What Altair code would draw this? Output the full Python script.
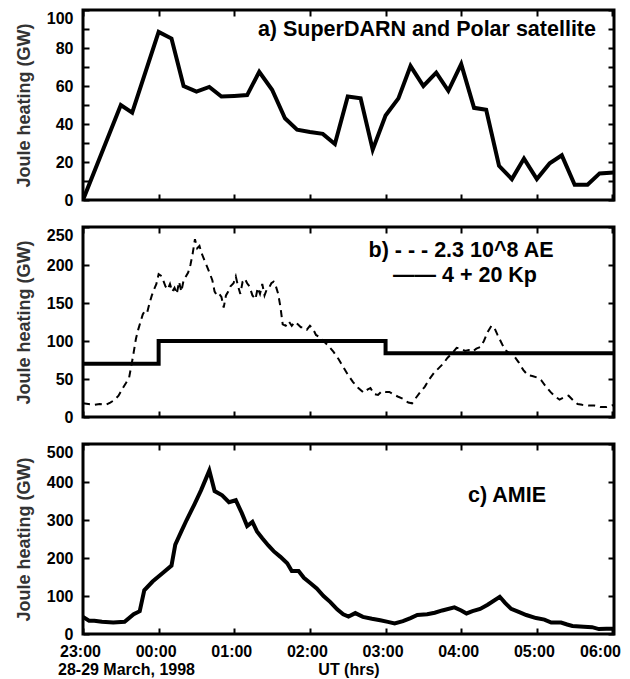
import altair as alt
import pandas as pd

# Time axis: hours from 00:00 UT on 29 March 1998 (negative values fall on 28 March)
hour_ticks = [-1, 0, 1, 2, 3, 4, 5, 6]

# a) SuperDARN + Polar satellite Joule heating (GW)
sd_hours = [-1.0, -0.5, -0.35, 0.0, 0.17, 0.33, 0.5, 0.67, 0.83, 1.0,
            1.17, 1.33, 1.5, 1.67, 1.83, 2.0, 2.17, 2.33, 2.5, 2.67,
            2.83, 3.0, 3.17, 3.33, 3.5, 3.67, 3.83, 4.0, 4.17, 4.33,
            4.5, 4.67, 4.83, 5.0, 5.17, 5.33, 5.5, 5.67, 5.83, 6.02]
sd_gw = [0, 50, 46, 88.5, 85, 60, 57, 59.5, 54.5, 54.8,
         55.2, 67.5, 58, 43, 37, 35.8, 34.8, 29.5, 54.5, 53.5,
         26.5, 44.5, 53.5, 70.5, 60, 67, 57.5, 71.5, 48.5, 47.5,
         18, 11, 21.8, 11, 19.3, 23.5, 8, 8, 14, 14.5]

# b) AE-index proxy (2.3e8 * AE) and Kp proxy (4 + 20 Kp), GW
ae_hours = [-1.00, -0.93, -0.85, -0.78, -0.70, -0.64, -0.59, -0.53, -0.48, -0.43,
            -0.39, -0.36, -0.33, -0.30, -0.27, -0.24, -0.21, -0.18, -0.15, -0.12,
            -0.09, -0.06, -0.03, 0.00, 0.03, 0.06, 0.09, 0.12, 0.15, 0.18,
            0.21, 0.24, 0.27, 0.30, 0.33, 0.36, 0.39, 0.42, 0.45, 0.48,
            0.51, 0.54, 0.57, 0.61, 0.64, 0.68, 0.71, 0.74, 0.77, 0.80,
            0.83, 0.86, 0.89, 0.92, 0.95, 0.99, 1.02, 1.05, 1.08, 1.11,
            1.14, 1.17, 1.20, 1.24, 1.28, 1.31, 1.34, 1.37, 1.40, 1.43,
            1.46, 1.49, 1.52, 1.55, 1.58, 1.61, 1.64, 1.68, 1.72, 1.76,
            1.80, 1.84, 1.88, 1.92, 1.96, 2.00, 2.04, 2.08, 2.13, 2.18,
            2.24, 2.31, 2.38, 2.44, 2.50, 2.57, 2.64, 2.71, 2.76, 2.80,
            2.85, 2.90, 2.95, 3.00, 3.05, 3.10, 3.16, 3.23, 3.30, 3.35,
            3.40, 3.46, 3.52, 3.58, 3.64, 3.70, 3.76, 3.82, 3.88, 3.94,
            4.00, 4.05, 4.10, 4.15, 4.20, 4.25, 4.30, 4.35, 4.40, 4.44,
            4.48, 4.53, 4.58, 4.64, 4.70, 4.76, 4.82, 4.88, 4.94, 5.00,
            5.06, 5.12, 5.18, 5.24, 5.30, 5.36, 5.42, 5.48, 5.54, 5.60,
            5.68, 5.76, 5.84, 5.92, 6.02]
ae_gw = [18, 17, 16, 17, 16, 19, 22, 28, 37, 45,
         52, 68, 85, 103, 115, 125, 135, 140, 138, 150,
         160, 168, 175, 188, 186, 180, 172, 168, 175, 165,
         170, 162, 178, 165, 180, 185, 190, 200, 215, 234,
         222, 225, 215, 205, 198, 188, 180, 165, 160, 162,
         158, 144, 160, 165, 172, 176, 185, 172, 162, 178,
         182, 176, 172, 160, 155, 170, 162, 175, 160, 168,
         170, 176, 178, 172, 162, 145, 122, 120, 126, 120,
         125, 122, 118, 118, 115, 120, 116, 108, 105, 100,
         94, 86, 76, 66, 56, 46, 38, 32, 36, 38,
         30, 29, 34, 33, 33, 30, 27, 24, 19, 18,
         25, 33, 40, 50, 58, 64, 70, 78, 84, 91,
         90, 87, 88, 86, 90, 92, 100, 112, 120, 117,
         108, 98, 88, 84, 80, 72, 62, 55, 54, 52,
         48, 40, 33, 27, 23, 26, 28, 22, 17, 16,
         15, 15, 13, 13, 16]
kp_hours = [-1.0, 0.0, 3.0, 6.02]
kp_gw = [70, 100, 84, 84]

# c) AMIE Joule heating (GW)
amie_hours = [-1.00, -0.92, -0.85, -0.75, -0.60, -0.45, -0.33, -0.25, -0.19, -0.08,
              0.05, 0.17, 0.22, 0.30, 0.37, 0.47, 0.56, 0.67, 0.74, 0.84,
              0.93, 1.02, 1.10, 1.17, 1.24, 1.30, 1.37, 1.45, 1.52, 1.61,
              1.70, 1.76, 1.85, 1.92, 2.00, 2.09, 2.18, 2.27, 2.36, 2.44,
              2.51, 2.60, 2.70, 2.82, 2.93, 3.03, 3.12, 3.23, 3.33, 3.42,
              3.55, 3.65, 3.75, 3.91, 4.00, 4.07, 4.15, 4.25, 4.35, 4.51,
              4.58, 4.66, 4.76, 4.86, 4.99, 5.10, 5.19, 5.32, 5.40, 5.47,
              5.62, 5.73, 5.82, 5.92, 6.02]
amie_gw = [45, 35, 35, 32, 30, 32, 52, 60, 115, 138,
           160, 180, 235, 270, 300, 340, 378, 430, 376, 365,
           347, 352, 318, 284, 295, 270, 252, 233, 218, 203,
           186, 166, 166, 148, 135, 120, 100, 84, 65, 52,
           46, 55, 45, 40, 36, 32, 28, 34, 42, 50,
           52, 56, 62, 70, 62, 54, 60, 66, 77, 98,
           82, 66, 58, 50, 42, 38, 30, 30, 25, 21,
           19, 18, 13, 14, 14]

FONT = "Liberation Sans"
TICK = 6
W, H = 531, 190
x_scale = alt.Scale(domain=[-1, 6.02], nice=False, zero=False)
Y_TITLE = "Joule heating (GW)"


def bottom_axis(show_labels):
    kw = dict(orient="bottom", values=hour_ticks, offset=-TICK, tickSize=TICK,
              tickWidth=2, tickColor="black", domain=False, grid=False,
              labels=show_labels)
    if show_labels:
        kw.update(
            labelExpr="datum.value < 0 ? '23:00' : '0' + datum.value + ':00'",
            labelFont=FONT, labelFontSize=16, labelFontWeight="bold",
            labelColor="black", labelPadding=9, labelFlush=False,
            labelAlign={"condition": {"test": "datum.value == 6", "value": "right"},
                        "value": "center"},
            labelOffset={"condition": {"test": "datum.value == 6", "value": 8},
                         "value": -3},
            titleFont=FONT, titleFontSize=16, titleFontWeight="bold",
            titleColor="black", titlePadding=2,
        )
    return alt.Axis(**kw)


def top_axis():
    return alt.Axis(orient="top", values=hour_ticks, offset=-TICK, tickSize=TICK,
                    tickWidth=2, tickColor="black", domain=False, grid=False,
                    labels=False)


def left_axis(values, top_value, label_expr=None):
    kw = dict(orient="left", values=values, offset=-TICK, tickSize=TICK,
              tickWidth=2, tickColor="black", domain=False, grid=False,
              labelFont=FONT, labelFontSize=16, labelFontWeight="bold",
              labelColor="black", labelPadding=10,
              labelBaseline={"condition": {"test": f"datum.value == {top_value}",
                                           "value": "top"},
                             "value": "middle"},
              titleFont=FONT, titleFontSize=18, titleFontWeight="bold",
              titleColor="#333333", titlePadding=13)
    if label_expr:
        kw["labelExpr"] = label_expr
    return alt.Axis(**kw)


def right_axis(values):
    return alt.Axis(orient="right", values=values, offset=-TICK, tickSize=TICK,
                    tickWidth=2, tickColor="black", domain=False, grid=False,
                    labels=False)


def note(text, x, y, align="left", size=21.5):
    return alt.Chart(pd.DataFrame({"txt": [text]})).mark_text(
        font=FONT, fontSize=size, fontWeight="bold", color="black",
        align=align, baseline="alphabetic"
    ).encode(x=alt.value(x), y=alt.value(y), text="txt:N")


def mirror(df, y_scale, y_values):
    # invisible layer that carries the tick marks on the top and right edges
    return alt.Chart(df).mark_line(opacity=0).encode(
        x=alt.X("hour:Q", scale=x_scale, axis=top_axis(), title=None),
        y=alt.Y("gw:Q", scale=y_scale, axis=right_axis(y_values), title=None),
    )


# ---- panel a
sd_df = pd.DataFrame({"hour": sd_hours, "gw": sd_gw})
ya_scale = alt.Scale(domain=[0, 100], nice=False)
ya_vals = list(range(0, 101, 10))
line_a = alt.Chart(sd_df).mark_line(color="black", strokeWidth=4, clip=True).encode(
    x=alt.X("hour:Q", scale=x_scale, axis=bottom_axis(False), title=None),
    y=alt.Y("gw:Q", scale=ya_scale, title=Y_TITLE,
            axis=left_axis(ya_vals, 100,
                           "datum.value % 20 == 0 ? datum.label : ''")),
)
panel_a = alt.layer(
    line_a,
    note("a) SuperDARN and Polar satellite", 513, 26, align="right"),
    mirror(sd_df, ya_scale, ya_vals),
).resolve_axis(x="independent", y="independent").properties(width=W, height=H)

# ---- panel b
ae_df = pd.DataFrame({"hour": ae_hours, "gw": ae_gw})
kp_df = pd.DataFrame({"hour": kp_hours, "gw": kp_gw})
yb_scale = alt.Scale(domain=[0, 250], nice=False)
yb_vals = list(range(0, 251, 50))
line_ae = alt.Chart(ae_df).mark_line(
    color="black", strokeWidth=2, strokeDash=[7, 5], clip=True
).encode(
    x=alt.X("hour:Q", scale=x_scale, axis=bottom_axis(False), title=None),
    y=alt.Y("gw:Q", scale=yb_scale, title=Y_TITLE, axis=left_axis(yb_vals, 250)),
)
line_kp = alt.Chart(kp_df).mark_line(
    color="black", strokeWidth=4, interpolate="step-after", clip=True
).encode(
    x=alt.X("hour:Q", scale=x_scale, axis=None),
    y=alt.Y("gw:Q", scale=yb_scale, axis=None),
)
panel_b = alt.layer(
    line_ae,
    line_kp,
    note("b) - - - 2.3 10^8 AE", 378, 30, align="center"),
    note("—— 4 + 20 Kp", 382, 55, align="center"),
    mirror(ae_df, yb_scale, yb_vals),
).resolve_axis(x="independent", y="independent").properties(width=W, height=H)

# ---- panel c
amie_df = pd.DataFrame({"hour": amie_hours, "gw": amie_gw})
yc_scale = alt.Scale(domain=[0, 500], nice=False)
yc_vals = list(range(0, 501, 100))
line_c = alt.Chart(amie_df).mark_line(color="black", strokeWidth=4, clip=True).encode(
    x=alt.X("hour:Q", scale=x_scale, axis=bottom_axis(True), title="UT (hrs)"),
    y=alt.Y("gw:Q", scale=yc_scale, title=Y_TITLE, axis=left_axis(yc_vals, 500)),
)
panel_c = alt.layer(
    line_c,
    note("c) AMIE", 385, 58),
    note("28-29 March, 1998", -25, H + 41, size=16),
    mirror(amie_df, yc_scale, yc_vals),
).resolve_axis(x="independent", y="independent").properties(width=W, height=H)

chart = alt.vconcat(panel_a, panel_b, panel_c, spacing=14).configure_view(
    stroke="black", strokeWidth=3
).properties(
    padding={"left": 13, "top": 7, "right": 5, "bottom": 3},
    background="white",
)

chart.save("out.html", embed_options={"renderer": "svg", "actions": False})
